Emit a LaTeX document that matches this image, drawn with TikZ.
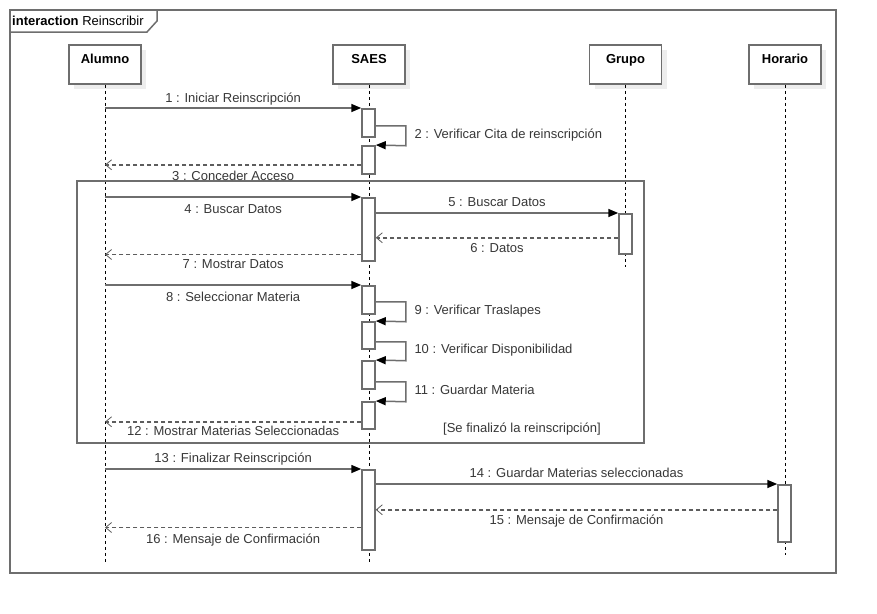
\documentclass[tikz,border=0pt]{standalone}
\usepackage{fontspec}
\setmainfont{Liberation Sans}
\usetikzlibrary{arrows.meta,shadows}
\definecolor{linegray}{HTML}{6E6E6E}
\definecolor{textgray}{HTML}{383838}
\begin{document}
\begin{tikzpicture}[x = 1pt, y = -1pt,
    every node/.style = {font = \fontsize{13}{15}\selectfont, text = textgray},
    frame/.style = {draw = linegray, line width = 1.5pt},
    part/.style = {draw = linegray, line width = 1.5pt, fill = white, minimum width = 72pt,
        inner ysep = 9pt, text height = 9pt, text depth = 12pt, text = black,
        font = \fontsize{13}{15}\selectfont\bfseries,
        drop shadow = {opacity = 1, fill = black!7, shadow xshift = 5pt, shadow yshift = -5pt}},
    act/.style = {draw = linegray, line width = 1.5pt, fill = white, minimum width = 13pt,
        inner sep = 0pt, anchor = north},
    life/.style = {black, line width = 0.8pt, dash pattern = on 3pt off 3pt},
    call/.style = {draw = linegray, line width = 1.5pt,
        -{Triangle[length = 10pt, width = 8pt, color = black, fill = black]}},
    reply/.style = {draw = linegray!85!black, line width = 1.5pt, dash pattern = on 4pt off 3pt,
        -{Straight Barb[length = 6pt, width = 10pt, line width = 0.8pt]}},
    lbl/.style = {inner sep = 0pt, text height = 9pt, text depth = 0pt}]
    \fill[white] (0,0) rectangle (877,613);
    \draw[frame] (10,10) rectangle (836,573);
    \draw[frame] (10,32) -- (147,32) -- (157,21) -- (157,10);
    \node[lbl, anchor = base west, text = black] (tag) at (12,25) {\textbf{interaction} Reinscribir};

    \node[part] (alumno) at (105,64.5) {Alumno};
    \node[part] (saes) at (369,64.5) {SAES};
    \node[part] (grupo) at (625.5,64.5) {Grupo};
    \node[part] (horario) at (785,64.5) {Horario};
    \coordinate (alumnoEnd) at (105,562);
    \coordinate (saesEnd) at (369,562);
    \coordinate (grupoEnd) at (625.5,267);
    \coordinate (horarioEnd) at (785,555);
    \draw[life] (alumno) -- (alumnoEnd);
    \draw[life] (saes) -- (saesEnd);
    \draw[life] (grupo) -- (grupoEnd);
    \draw[life] (horario) -- (horarioEnd);

    \draw[frame] (77,181) rectangle (644,443);
    \node[lbl, anchor = base west] (guard) at (443,432) {[Se finalizó la reinscripción]};

    \node[act, minimum height = 28pt] (s1) at (368.5,108) {};
    \node[act, minimum height = 28pt] (s2) at (368.5,145) {};
    \node[act, minimum height = 63pt] (s3) at (368.5,197) {};
    \node[act, minimum height = 28pt] (s4) at (368.5,285) {};
    \node[act, minimum height = 27pt] (s5) at (368.5,321) {};
    \node[act, minimum height = 28pt] (s6) at (368.5,360) {};
    \node[act, minimum height = 27pt] (s7) at (368.5,401) {};
    \node[act, minimum height = 80pt] (s8) at (368.5,469) {};
    \node[act, minimum height = 40pt] (g1) at (625.5,213) {};
    \node[act, minimum height = 57pt] (h1) at (784.5,484) {};

    \draw[call] (alumno |- s1.north) -- node[lbl, above = 5pt] {1 : Iniciar Reinscripción} (s1.north west);
    \draw[call] ([yshift = -3pt]s1.east) -- ++(30,0) -- node[lbl, right = 8pt, yshift = 2pt] {2 : Verificar Cita de reinscripción} ++(0,20) -- (s2.north east);
    \coordinate (r3) at ([yshift = -5pt]s2.west);
    \draw[reply] (r3) -- node[lbl, below = 6pt] {3 : Conceder Acceso} (alumno |- r3);
    \draw[call] (alumno |- s3.north) -- node[lbl, below = 7pt] {4 : Buscar Datos} (s3.north west);
    \draw[call] (s3.east |- g1.north) -- node[lbl, above = 6pt] {5 : Buscar Datos} (g1.north west);
    \coordinate (r6) at ([yshift = -4pt]g1.west);
    \draw[reply] (r6) -- node[lbl, below = 5pt] {6 : Datos} (s3.east |- r6);
    \coordinate (r7) at ([yshift = 7pt]s3.south west);
    \draw[reply] (r7) -- node[lbl, below = 4pt] {7 : Mostrar Datos} (alumno |- r7);
    \draw[call] (alumno |- s4.north) -- node[lbl, below = 7pt] {8 : Seleccionar Materia} (s4.north west);
    \draw[call] ([yshift = -2pt]s4.east) -- ++(30,0) -- node[lbl, right = 8pt, yshift = 2pt] {9 : Verificar Traslapes} ++(0,20) -- (s5.north east);
    \draw[call] ([yshift = -6.5pt]s5.east) -- ++(30,0) -- node[lbl, right = 8pt, yshift = 2pt] {10 : Verificar Disponibilidad} ++(0,19) -- (s6.north east);
    \draw[call] ([yshift = -7pt]s6.east) -- ++(30,0) -- node[lbl, right = 8pt, yshift = 2pt] {11 : Guardar Materia} ++(0,20) -- (s7.north east);
    \coordinate (r12) at ([yshift = -6.5pt]s7.west);
    \draw[reply] (r12) -- node[lbl, below = 4pt] {12 : Mostrar Materias Seleccionadas} (alumno |- r12);
    \draw[call] (alumno |- s8.north) -- node[lbl, above = 6pt] {13 : Finalizar Reinscripción} (s8.north west);
    \draw[call] (s8.east |- h1.north) -- node[lbl, above = 6pt] {14 : Guardar Materias seleccionadas} (h1.north west);
    \coordinate (r15) at ([yshift = 3.5pt]h1.west);
    \draw[reply] (r15) -- node[lbl, below = 5pt] {15 : Mensaje de Confirmación} (s8.east |- r15);
    \coordinate (r16) at ([yshift = 23pt]s8.south west);
    \draw[reply] (r16) -- node[lbl, below = 6pt] {16 : Mensaje de Confirmación} (alumno |- r16);
\end{tikzpicture}
\end{document}
